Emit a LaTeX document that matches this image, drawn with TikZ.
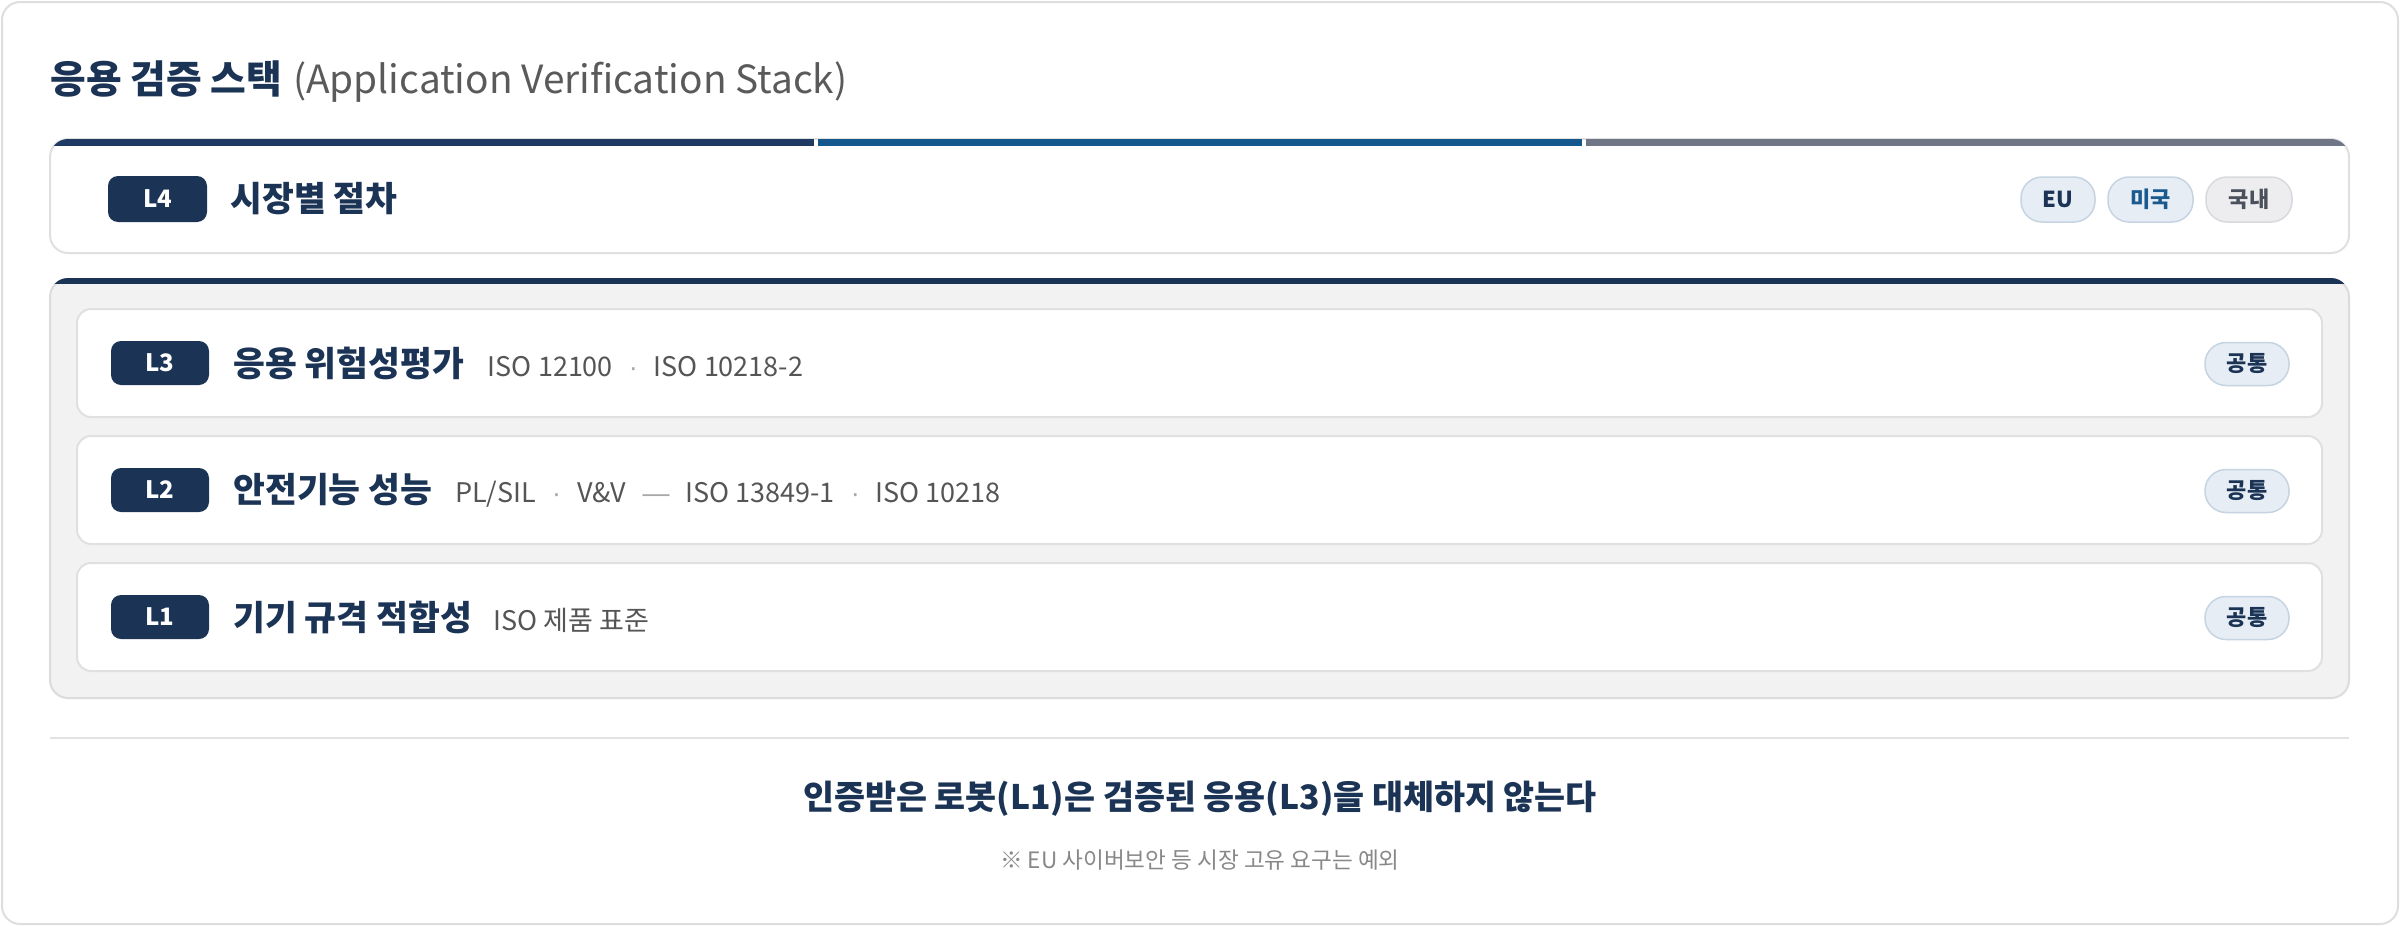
\documentclass[tikz,border=0pt]{standalone}
\usepackage{fontspec}
\setmainfont{Noto Sans CJK KR}
\newfontfamily\lat{Liberation Sans}
\usetikzlibrary{calc}
\definecolor{navy}{HTML}{1B3354}
\definecolor{barA}{HTML}{1F3B63}
\definecolor{barB}{HTML}{13588C}
\definecolor{barC}{HTML}{707686}
\definecolor{outerline}{HTML}{DEDEDE}
\definecolor{panelfill}{HTML}{F2F2F2}
\definecolor{panelline}{HTML}{DCDCDC}
\definecolor{cardline}{HTML}{E0E0E0}
\definecolor{subc}{HTML}{555555}
\definecolor{dotc}{HTML}{A8A8A8}
\definecolor{titlegray}{HTML}{5A5A5A}
\definecolor{chipfill}{HTML}{E6EDF4}
\definecolor{chipline}{HTML}{C6D4E2}
\definecolor{chipblue}{HTML}{1B5A8E}
\definecolor{chipgfill}{HTML}{EDEDEF}
\definecolor{chipgline}{HTML}{D6D9DD}
\definecolor{chipgtext}{HTML}{4A505C}
\definecolor{footc}{HTML}{888888}
\definecolor{sepc}{HTML}{E2E2E2}
\newcommand{\sepdot}{\hspace{8pt}{\lat\color{dotc}·}\hspace{8pt}}
\newcommand{\sepdash}{\hspace{8pt}{\lat\color{dotc}—}\hspace{8pt}}
\begin{document}
\begin{tikzpicture}[x=0.5pt,y=-0.5pt,
  badge/.style={fill=navy, rounded corners=5pt, text=white,
    font=\fontsize{12}{14}\selectfont\bfseries,
    minimum width=49pt, minimum height=22pt, inner sep=0pt},
  lbl/.style={anchor=west, inner sep=0pt, text=navy,
    font=\fontsize{17.3}{20}\selectfont\bfseries},
  sub/.style={anchor=base west, inner sep=0pt, text=subc,
    font=\fontsize{13.5}{16}\selectfont},
  chip/.style={rounded corners=10.5pt, line width=0.75pt, minimum height=22pt,
    inner sep=0pt, font=\fontsize{11}{13}\selectfont\bfseries},
  chipb/.style={chip, fill=chipfill, draw=chipline, text=navy},
  chipu/.style={chip, fill=chipfill, draw=chipline, text=chipblue},
  chipg/.style={chip, fill=chipgfill, draw=chipgline, text=chipgtext},
  card/.style={fill=white, draw=cardline, line width=1pt, rounded corners=7pt}
]
\useasboundingbox (0,0) rectangle (2400,926);
% outer card
\draw[fill=white, draw=outerline, line width=1pt, rounded corners=9pt] (2,2) rectangle (2398,924);

% title
\node[anchor=base west, inner sep=0pt, text=navy, font=\fontsize{19.4}{23}\selectfont\bfseries] (title) at (50,93) {응용 검증 스택};
\node[anchor=base west, inner sep=0pt, text=titlegray, font=\fontsize{19.4}{23}\selectfont] (titlesub) at ([xshift=5pt]title.base east) {(Application Verification Stack)};

% L4 card
\draw[card, rounded corners=9pt] (50,139) rectangle (2349,253);
\begin{scope}
  \clip[rounded corners=9pt] (50,139) rectangle (2349,253);
  \fill[barA] (50,139) rectangle (814,146);
  \fill[barB] (818,139) rectangle (1582,146);
  \fill[barC] (1586,139) rectangle (2349,146);
\end{scope}
\node[badge, minimum width=49.5pt, minimum height=23pt] (b4) at (157.5,199) {L4};
\node[lbl] (t4) at (230,199) {시장별 절차};
\node[chipb, minimum width=37pt, minimum height=22.5pt] (eu) at (2058,199.5) {EU};
\node[chipu, minimum width=42.5pt, minimum height=22.5pt] (us) at (2150.5,199.5) {미국};
\node[chipg, minimum width=43pt, minimum height=22.5pt] (kr) at (2249,199.5) {국내};

% common panel
\draw[fill=panelfill, draw=panelline, line width=1pt, rounded corners=9pt] (50,279) rectangle (2349,698);
\begin{scope}
  \clip[rounded corners=9pt] (50,278) rectangle (2349,698);
  \fill[navy] (50,278) rectangle (2349,284);
\end{scope}

% L3
\draw[card] (77,309) rectangle (2322,417);
\node[badge] (b3) at (160,363) {L3};
\node[lbl] (t3) at (233,363) {응용 위험성평가};
\node[sub] (s3) at ([xshift=11.5pt]t3.base east) {ISO 12100\sepdot ISO 10218-2};
\node[chipb, minimum width=42pt, minimum height=21.5pt] (c3) at (2247,364) {공통};

% L2
\draw[card] (77,436) rectangle (2322,544);
\node[badge] (b2) at (160,490) {L2};
\node[lbl] (t2) at (233,490) {안전기능 성능};
\node[sub] (s2) at ([xshift=11pt]t2.base east) {PL/SIL\sepdot V\&V\sepdash ISO 13849-1\sepdot ISO 10218};
\node[chipb, minimum width=42pt, minimum height=21.5pt] (c2) at (2247,491) {공통};

% L1
\draw[card] (77,563) rectangle (2322,671);
\node[badge] (b1) at (160,617) {L1};
\node[lbl] (t1) at (233,617) {기기 규격 적합성};
\node[sub] (s1) at ([xshift=10.5pt]t1.base east) {ISO 제품 표준};
\node[chipb, minimum width=42pt, minimum height=21.5pt] (c1) at (2247,618) {공통};

% separator
\coordinate (sepL) at (50,738);
\coordinate (sepR) at (2349,738);
\draw[sepc, line width=1pt] (sepL) -- (sepR);

% conclusion
\node[inner sep=0pt, text=navy, font=\fontsize{16.85}{20}\selectfont\bfseries] (concl) at (1200,799) {인증받은 로봇(L1)은 검증된 응용(L3)을 대체하지 않는다};
\node[inner sep=0pt, text=footc, font=\fontsize{11.3}{13}\selectfont] (foot) at (1200,860) {※ EU 사이버보안 등 시장 고유 요구는 예외};
\end{tikzpicture}
\end{document}
